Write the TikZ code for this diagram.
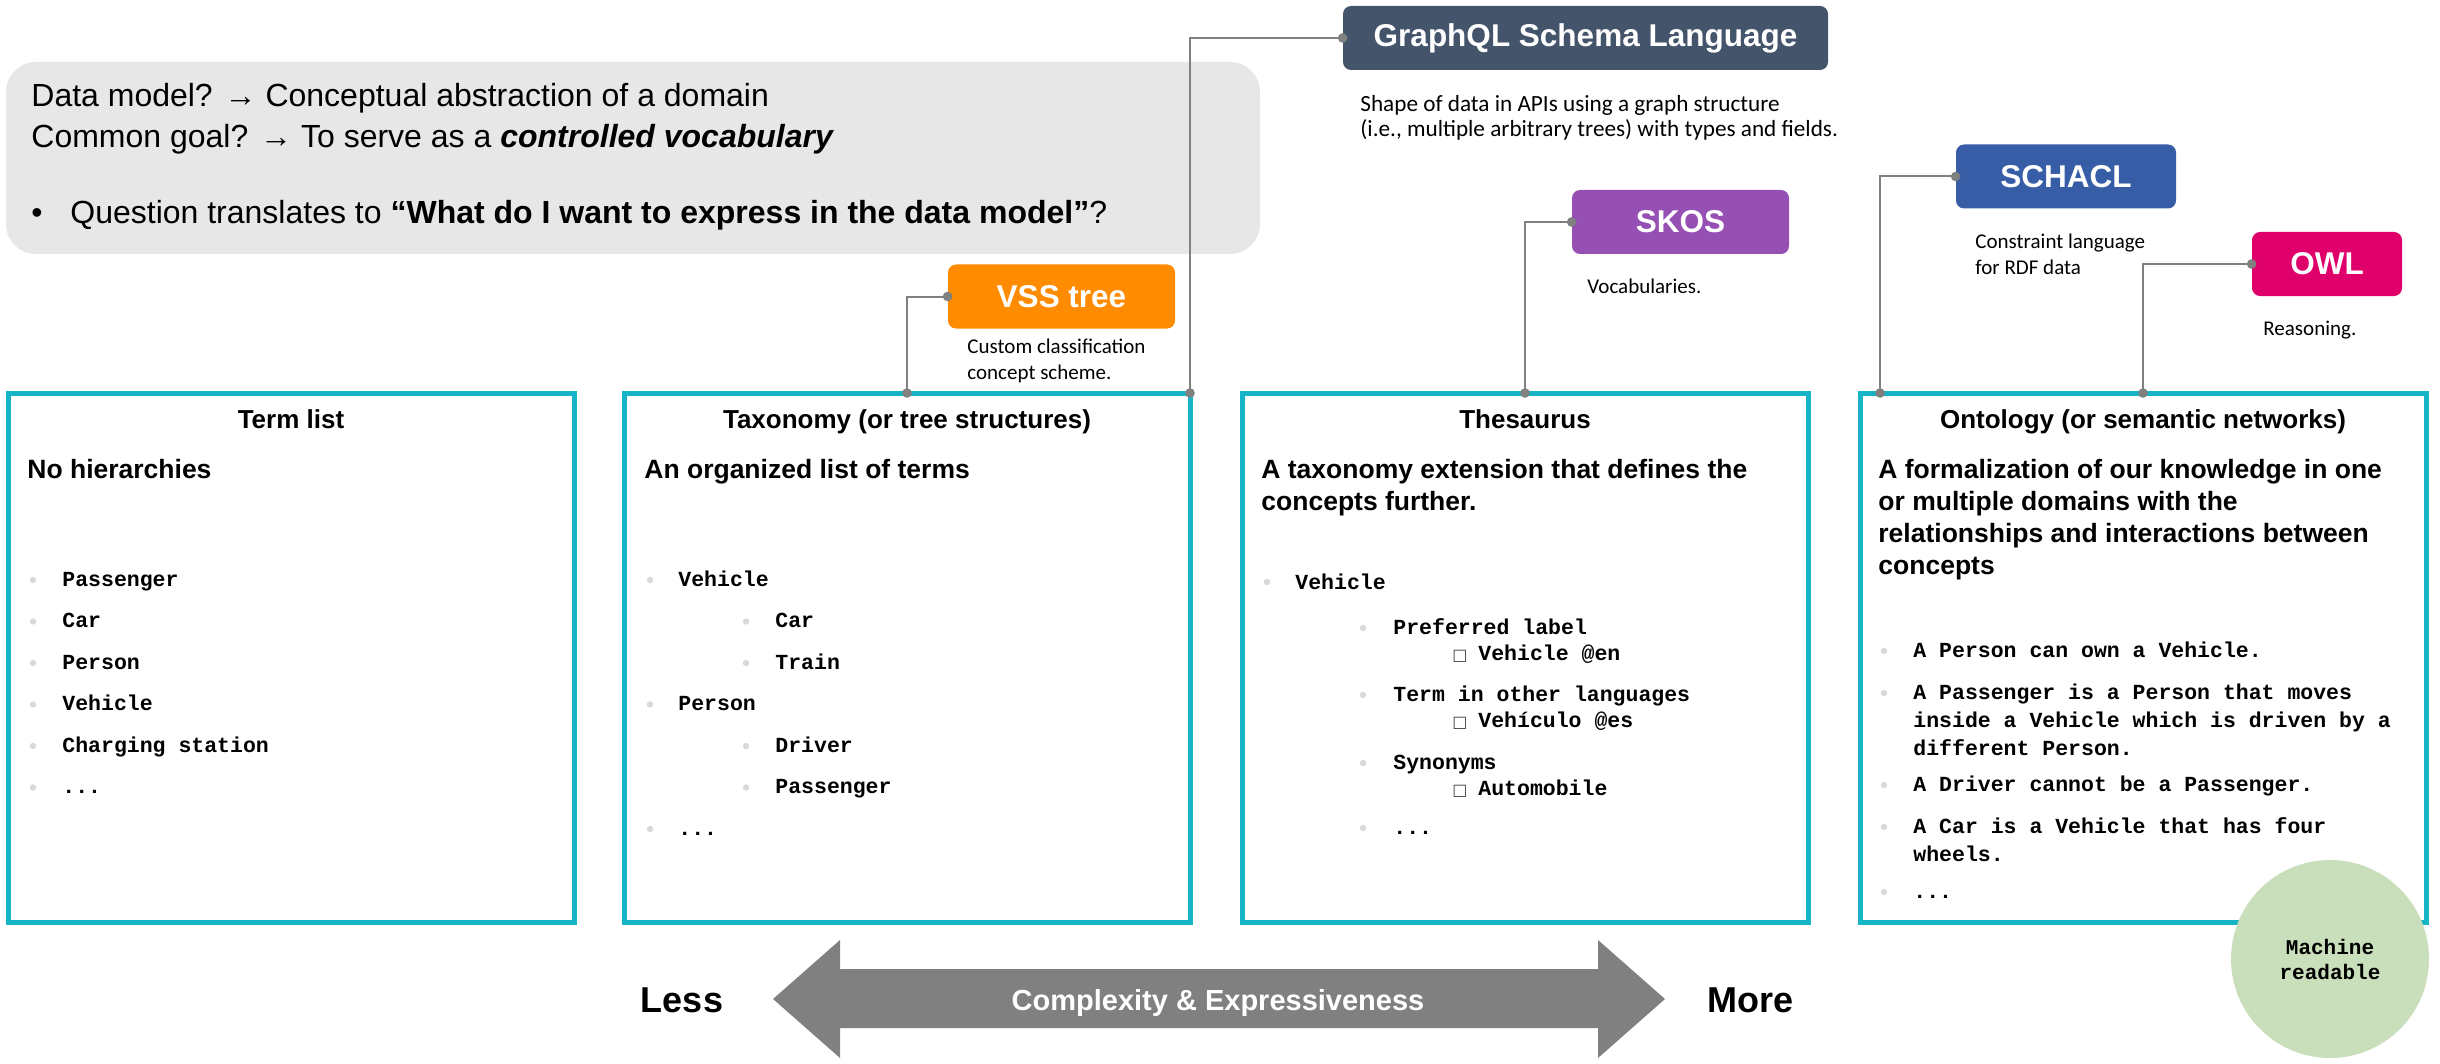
\documentclass[tikz,border=0pt]{standalone}
\usepackage{fontspec}
\setmainfont{Liberation Sans}
\setmonofont{Liberation Mono}
\newfontfamily\notefont{Carlito}
\newfontfamily\glyphfont{DejaVu Sans}
\usepackage{tikz}

\definecolor{boxteal}{RGB}{23,179,198}
\definecolor{panelgray}{RGB}{231,231,231}
\definecolor{linkgray}{RGB}{128,128,128}
\definecolor{arrowgray}{RGB}{128,128,128}
\definecolor{gqlslate}{RGB}{68,84,106}
\definecolor{vssorange}{RGB}{255,140,0}
\definecolor{skospurple}{RGB}{150,80,180}
\definecolor{shaclblue}{RGB}{55,93,166}
\definecolor{owlpink}{RGB}{224,0,108}
\definecolor{dotgray}{RGB}{217,217,217}
\definecolor{readgreen}{RGB}{201,222,186}

\newcommand{\stack}[1]{\begin{tabular}[t]{@{}l@{}}#1\end{tabular}}
\newcommand{\trail}{...}

\tikzset{
  termbox/.style={draw=boxteal, line width=2.5pt, minimum width=283pt, minimum height=264.5pt, inner sep=0pt, outer sep=0pt},
  badge/.style={rounded corners=4pt, text=white, font=\fontsize{15.75}{18}\selectfont\bfseries, minimum height=32pt, inner sep=0pt},
  note/.style={anchor=base west, inner sep=0pt, font=\notefont\fontsize{10.5}{13}\selectfont},
  asktext/.style={anchor=base west, inner sep=0pt, font=\fontsize{16}{20}\selectfont},
  boxtitle/.style={anchor=base, inner sep=0pt, font=\fontsize{13}{15.6}\selectfont\bfseries},
  boxlead/.style={anchor=base west, inner sep=0pt, font=\fontsize{13.25}{16}\selectfont\bfseries},
  item/.style={anchor=base west, inner sep=0pt, font=\ttfamily\bfseries\fontsize{10.75}{14}\selectfont},
  link/.style={draw=linkgray, line width=1pt},
  bullet/.style={fill=dotgray},
}

\begin{document}
\begin{tikzpicture}[x=0.5pt, y=-0.5pt]
\useasboundingbox (0,0) rectangle (2440,1064);

% question panel
\fill[panelgray, rounded corners=15pt] (6,62) rectangle (1260,254);
\node[asktext] (ask1) at (31,107) {Data model? → Conceptual abstraction of a domain};
\node[asktext] (ask2) at (31,148) {Common goal? → To serve as a \textbf{\textit{controlled vocabulary}}};
\node[asktext] (askdot) at (31,224) {•};
\node[asktext] (ask3) at (70,224) {Question translates to \textbf{“What do I want to express in the data model”}?};

% the four boxes
\node[termbox] (termlist) at (291,657.5) {};
\node[termbox] (taxo) at (907,657.5) {};
\node[termbox] (thes) at (1525,657.5) {};
\node[termbox] (onto) at (2143,657.5) {};

\node[boxtitle] (termlisttitle) at (291,428) {Term list};
\node[boxtitle] (taxotitle) at (907,428) {Taxonomy (or tree structures)};
\node[boxtitle] (thestitle) at (1525,428) {Thesaurus};
\node[boxtitle] (ontotitle) at (2143,428) {Ontology (or semantic networks)};

\node[boxlead] (termlistlead) at (27,478) {No hierarchies};
\node[boxlead] (taxolead) at (644,478) {An organized list of terms};
\node[boxlead] (theslead) at (1261,478) {\stack{A taxonomy extension that defines the\\concepts further.}};
\node[boxlead] (ontolead) at (1878,478) {\stack{A formalization of our knowledge in one\\or multiple domains with the\\relationships and interactions between\\concepts}};

% term list
\foreach \word [count=\k from 0] in {Passenger, Car, Person, Vehicle, Charging station, \trail} {
  \fill[bullet] (33,580+41.5*\k) circle[radius=1.6pt];
  \node[item] (tl\k) at (62,586+41.5*\k) {\word};
}

% taxonomy
\foreach \word/\lvl [count=\k from 0] in {Vehicle/0, Car/1, Train/1, Person/0, Driver/1, Passenger/1, \trail/0} {
  \fill[bullet] (650+96*\lvl,580+41.5*\k) circle[radius=1.6pt];
  \node[item] (tx\k) at (678+97*\lvl,586+41.5*\k) {\word};
}

% thesaurus
\fill[bullet] (1267,582) circle[radius=1.6pt];
\node[item] (th0) at (1295,589) {Vehicle};
\foreach \word/\y [count=\k] in {Preferred label/628, Term in other languages/695, Synonyms/763, \trail/828} {
  \fill[bullet] (1363,\y) circle[radius=1.6pt];
  \node[item] (th\k) at (1393,\y+6) {\word};
}
\foreach \word/\y [count=\k] in {Vehicle @en/660, Vehículo @es/727, Automobile/795} {
  \node[anchor=base west, inner sep=0pt, text=black!75, font=\glyphfont\fontsize{8}{9}\selectfont] (thbox\k) at (1452,\y) {□};
  \node[item] (thsub\k) at (1478,\y) {\word};
}

% ontology
\foreach \y in {651,693,785,827,892}
  \fill[bullet] (1884,\y) circle[radius=1.6pt];
\node[item] (on1) at (1913,657) {A Person can own a Vehicle.};
\node[item] (on2) at (1913,699) {\stack{A Passenger is a Person that moves\\inside a Vehicle which is driven by a\\different Person.}};
\node[item] (on3) at (1913,791) {A Driver cannot be a Passenger.};
\node[item] (on4) at (1913,833) {\stack{A Car is a Vehicle that has four\\wheels.}};
\node[item] (on5) at (1913,898) {\trail};

% standards
\node[badge, fill=gqlslate, minimum width=242.5pt] (gql) at (1585.5,38) {GraphQL Schema Language};
\node[badge, fill=vssorange, minimum width=113.5pt] (vss) at (1061.5,296.5) {VSS tree};
\node[badge, fill=skospurple, minimum width=108.5pt] (skos) at (1680.5,222) {SKOS};
\node[badge, fill=shaclblue, minimum width=110pt] (shacl) at (2066,176.5) {SCHACL};
\node[badge, fill=owlpink, minimum width=75pt] (owl) at (2327,264) {OWL};

\node[note, font=\notefont\fontsize{11.6}{12.2}\selectfont] (gqlnote) at (1360,112) {\stack{Shape of data in APIs using a graph structure\\(i.e., multiple arbitrary trees) with types and fields.}};
\node[note] (vssnote) at (967,353) {\stack{Custom classification\\concept scheme.}};
\node[note] (skosnote) at (1587,293) {Vocabularies.};
\node[note] (shaclnote) at (1975,249) {\stack{Constraint language\\for RDF data}};
\node[note] (owlnote) at (2263,335) {Reasoning.};

% connectors
\coordinate (shaclfoot) at ([xshift=10pt]onto.north west);
\draw[link] (taxo.north) |- (vss.west);
\draw[link] (taxo.north east) |- (gql.west);
\draw[link] (thes.north) |- (skos.west);
\draw[link] (shaclfoot) |- (shacl.west);
\draw[link] (onto.north) |- (owl.west);
\foreach \spot in {taxo.north, vss.west, taxo.north east, gql.west, thes.north, skos.west, shaclfoot, shacl.west, onto.north, owl.west}
  \fill[linkgray] (\spot) circle[radius=2.4pt];

% complexity arrow
\fill[arrowgray] (773,999) -- (840,940) -- (840,969) -- (1598,969) -- (1598,940) -- (1665,999)
  -- (1598,1058) -- (1598,1028) -- (840,1028) -- (840,1058) -- cycle;
\node[anchor=base, inner sep=0pt, text=white, font=\fontsize{14.5}{17}\selectfont\bfseries] (scale) at (1218,1010) {Complexity \& Expressiveness};
\node[inner sep=0pt, font=\fontsize{18}{21}\selectfont\bfseries] (less) at (682,1000) {Less};
\node[inner sep=0pt, font=\fontsize{18}{21}\selectfont\bfseries] (more) at (1750,1000) {More};

% machine readable
\node[circle, fill=readgreen, minimum size=99pt, inner sep=0pt, align=center, font=\ttfamily\bfseries\fontsize{10.5}{12.5}\selectfont] (machine) at (2330,959) {Machine\\readable};

\end{tikzpicture}
\end{document}
